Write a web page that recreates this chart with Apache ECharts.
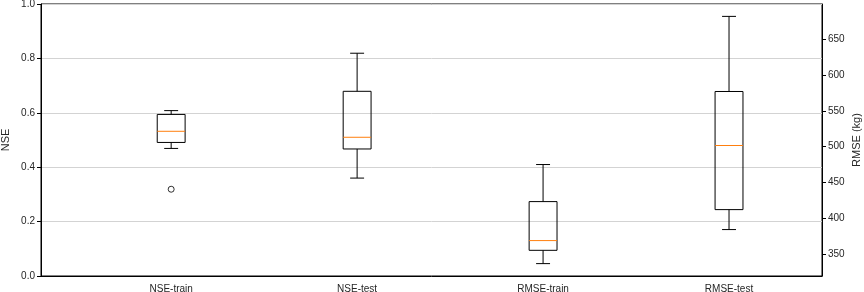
<!DOCTYPE html>
<html>
<head>
<meta charset="utf-8">
<script src="https://cdn.jsdelivr.net/npm/echarts@6/dist/echarts.min.js"></script>
<style>html,body{margin:0;padding:0;background:#fff}#c{width:864px;height:292px}</style>
</head>
<body>
<div id="c"></div>
<script>
// categories and box statistics: [min whisker, Q1, median, Q3, max whisker]
const categories = ['NSE-train', 'NSE-test', 'RMSE-train', 'RMSE-test'];
const nseTrain = [0.469, 0.491, 0.532, 0.594, 0.608];
const nseTest = [0.360, 0.467, 0.510, 0.679, 0.819];
const rmseTrain = [336.6, 355.2, 368.8, 423.3, 475.1];
const rmseTest = [384.2, 412.1, 501.7, 577.2, 682.2];
const nseTrainOutliers = [0.319];
const nseTicks = [0, 0.2, 0.4, 0.6, 0.8, 1.0];
const rmseTicks = [350, 400, 450, 500, 550, 600, 650];

const font = 'Liberation Sans, Arial, sans-serif';
const txt = '#262626';

function boxRender(params, api) {
  const x = api.value(0);
  const v = [api.value(1), api.value(2), api.value(3), api.value(4), api.value(5)];
  const p = v.map(d => api.coord([x, d]));
  const cx = p[0][0];
  const half = api.size([0.15, 0])[0] / 2;
  const cap = half / 2;
  const ls = {stroke: '#000', lineWidth: 1, fill: null};
  return {
    type: 'group',
    children: [
      {type: 'line', shape: {x1: cx, y1: p[0][1], x2: cx, y2: p[1][1]}, style: ls},
      {type: 'line', shape: {x1: cx, y1: p[3][1], x2: cx, y2: p[4][1]}, style: ls},
      {type: 'line', shape: {x1: cx - cap, y1: p[0][1], x2: cx + cap, y2: p[0][1]}, style: ls},
      {type: 'line', shape: {x1: cx - cap, y1: p[4][1], x2: cx + cap, y2: p[4][1]}, style: ls},
      {type: 'rect', shape: {x: cx - half, y: p[3][1], width: 2 * half, height: p[1][1] - p[3][1]}, style: {stroke: '#000', lineWidth: 1, fill: 'none'}},
      {type: 'line', shape: {x1: cx - half, y1: p[2][1], x2: cx + half, y2: p[2][1]}, style: {stroke: '#ff7f0e', lineWidth: 1}}
    ]
  };
}

const chart = echarts.init(document.getElementById('c'), null, {renderer: 'canvas'});
chart.setOption({
  animation: false,
  backgroundColor: '#fff',
  grid: {left: 41, right: 42, top: 4, bottom: 16, containLabel: false, outerBoundsMode: 'none',
         show: true, borderColor: '#000', borderWidth: 1, backgroundColor: 'transparent'},
  xAxis: {
    type: 'value', min: 0.3, max: 4.5,
    axisLine: {show: true, lineStyle: {color: '#000', width: 1}},
    axisTick: {show: false},
    splitLine: {show: false},
    axisLabel: {
      customValues: [1, 2, 3, 4],
      formatter: v => categories[Math.round(v) - 1] || '',
      color: txt, fontFamily: font, fontSize: 10, margin: 8
    }
  },
  yAxis: [
    {
      type: 'value', min: 0, max: 1, interval: 0.2, position: 'left',
      name: 'NSE', nameLocation: 'middle', nameGap: 30, nameMoveOverlap: false,
      nameTextStyle: {color: txt, fontFamily: font, fontSize: 11},
      axisLine: {show: true, lineStyle: {color: '#000'}},
      axisTick: {show: true, length: 4, lineStyle: {color: '#000'}},
      splitLine: {show: true, lineStyle: {color: '#d3d3d3', width: 1}},
      axisLabel: {color: txt, fontFamily: font, fontSize: 10, margin: 6, formatter: v => v.toFixed(1)}
    },
    {
      type: 'value', min: 319.3, max: 699.5, position: 'right',
      name: 'RMSE (kg)', nameLocation: 'middle', nameGap: 29, nameRotate: 90, nameMoveOverlap: false,
      nameTextStyle: {color: txt, fontFamily: font, fontSize: 11},
      axisLine: {show: true, lineStyle: {color: '#000'}},
      axisTick: {show: true, length: 4, customValues: rmseTicks, lineStyle: {color: '#000'}},
      splitLine: {show: false},
      axisLabel: {customValues: rmseTicks, color: txt, fontFamily: font, fontSize: 10, margin: 6}
    }
  ],
  series: [
    {
      type: 'custom', yAxisIndex: 0, renderItem: boxRender,
      encode: {x: 0, y: [1, 2, 3, 4, 5]},
      data: [[1].concat(nseTrain), [2].concat(nseTest)]
    },
    {
      type: 'custom', yAxisIndex: 1, renderItem: boxRender,
      encode: {x: 0, y: [1, 2, 3, 4, 5]},
      data: [[3].concat(rmseTrain), [4].concat(rmseTest)]
    },
    {
      type: 'scatter', yAxisIndex: 0, symbol: 'circle', symbolSize: 6,
      itemStyle: {color: 'rgba(0,0,0,0)', borderColor: '#000', borderWidth: 1},
      data: nseTrainOutliers.map(v => [1, v])
    }
  ]
});
</script>
</body>
</html>
